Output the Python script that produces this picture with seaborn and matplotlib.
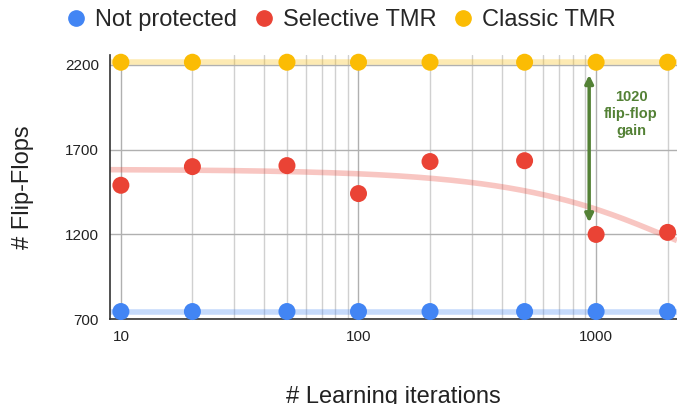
"""Flip-flop count vs. learning iterations for three protection schemes."""
import matplotlib
matplotlib.use("Agg")
import matplotlib.pyplot as plt
from matplotlib.ticker import FixedLocator, NullFormatter
import numpy as np
import pandas as pd
import seaborn as sns

iterations = [10, 20, 50, 100, 200, 500, 1000, 2000]
not_protected = [745, 745, 745, 745, 745, 745, 745, 745]
selective_tmr = [1490, 1600, 1606, 1441, 1630, 1635, 1200, 1212]
classic_tmr = [2216, 2216, 2216, 2216, 2216, 2216, 2216, 2216]

series_names = ["Not protected", "Selective TMR", "Classic TMR"]
colors = ["#4285F4", "#EA4335", "#FBBC04"]
y_ticks = [700, 1200, 1700, 2200]
x_ticks = [10, 100, 1000]

df = pd.DataFrame({
    "iterations": iterations * 3,
    "flip_flops": not_protected + selective_tmr + classic_tmr,
    "scheme": [n for n in series_names for _ in iterations],
})

sns.set_style("white")
plt.rcParams["font.family"] = ["Liberation Sans", "DejaVu Sans"]

fig = plt.figure(figsize=(6.77, 4.04), dpi=100)
ax = fig.add_axes([0.1625, 0.21, 0.8375, 0.654])
ax.set_xscale("log")
ax.set_xlim(9, 2190)
ax.set_ylim(700, 2259)

# grid
ax.xaxis.set_minor_locator(FixedLocator(
    [m * 10 ** e for e in (1, 2, 3) for m in range(2, 10)]))
ax.xaxis.set_minor_formatter(NullFormatter())
ax.grid(which="minor", axis="x", color="#d0d0d0", lw=1)
ax.grid(which="major", color="#b0b0b0", lw=1)
ax.set_axisbelow(True)

# trendlines (polynomial fit, like the spreadsheet)
xs = np.logspace(np.log10(9), np.log10(2190), 300)
for name, color, ys in zip(series_names, colors, [not_protected, selective_tmr, classic_tmr]):
    coef = np.polyfit(iterations, ys, 2)
    ax.plot(xs, np.polyval(coef, xs), color=color, alpha=0.3, lw=4, zorder=2,
            solid_capstyle="butt")

sns.scatterplot(data=df, x="iterations", y="flip_flops", hue="scheme",
                palette=colors, hue_order=series_names, s=150, edgecolor="none",
                ax=ax, zorder=3, clip_on=False, legend=False)

ax.set_xticks(x_ticks)
ax.set_xticklabels([str(t) for t in x_ticks])
ax.set_yticks(y_ticks)
ax.tick_params(axis="both", length=0, labelsize=11, pad=8, colors="#222222")
for side in ["top", "right"]:
    ax.spines[side].set_visible(False)
ax.spines["left"].set_color("#333333")
ax.spines["bottom"].set_color("#333333")
ax.spines["left"].set_linewidth(1.2)
ax.spines["bottom"].set_linewidth(1.2)

ax.set_xlabel("# Learning iterations", fontsize=17, labelpad=30, color="#222222")
ax.set_ylabel("# Flip-Flops", fontsize=17, labelpad=22, color="#222222")

# gain annotation
ax.annotate("", xy=(935, 1271), xytext=(935, 2141),
            arrowprops=dict(arrowstyle="<|-|>", color="#538135", lw=2.5,
                            mutation_scale=12, shrinkA=0, shrinkB=0))
ax.text(1403, 1912, "1020\nflip-flop\ngain", color="#538135", fontsize=10.5,
        fontweight="bold", ha="center", va="center", linespacing=1.25)

# legend
handles = [plt.Line2D([], [], marker="o", ls="", color=c, markersize=11)
           for c in colors]
fig.legend(handles, series_names, loc="center", bbox_to_anchor=(0.502, 0.95),
           ncol=3, frameon=False, fontsize=17, handlelength=1.0,
           handletextpad=0.3, columnspacing=0.65, borderaxespad=0)

fig.savefig("out.png", dpi=100)
